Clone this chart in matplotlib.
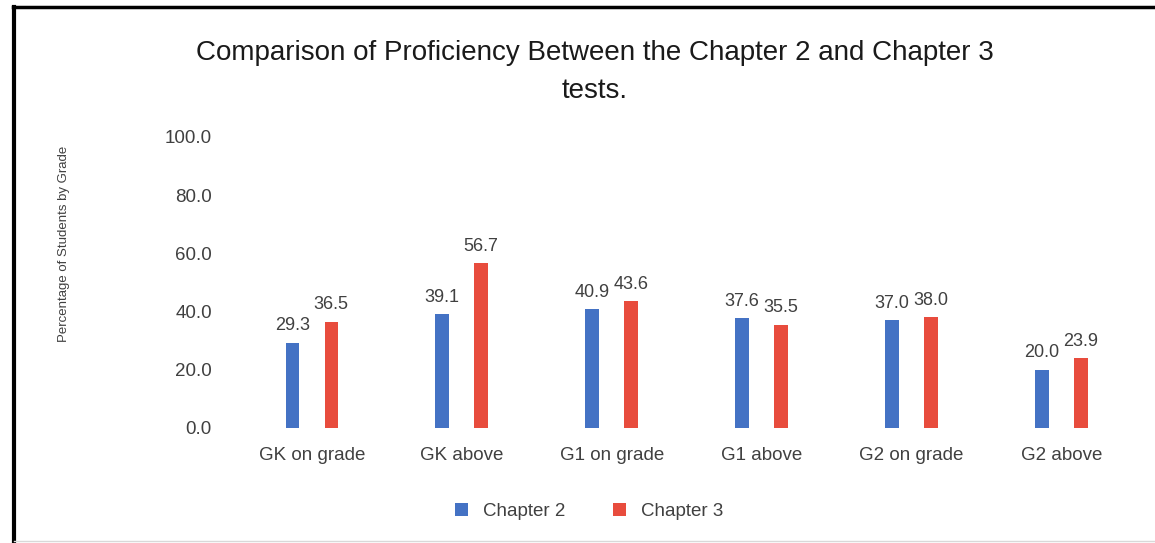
import matplotlib.pyplot as plt
import numpy as np
from matplotlib.lines import Line2D

plt.rcParams['font.family'] = ['Liberation Sans', 'DejaVu Sans']

categories = ['GK on grade', 'GK above', 'G1 on grade', 'G1 above', 'G2 on grade', 'G2 above']
chapter2 = [29.3, 39.1, 40.9, 37.6, 37.0, 20.0]
chapter3 = [36.5, 56.7, 43.6, 35.5, 38.0, 23.9]
yticks = [0, 20, 40, 60, 80, 100]

blue = '#4472C4'
red = '#E84C3D'
txt = '#404040'

fig = plt.figure(figsize=(11.55, 5.43), dpi=100)
ax = fig.add_axes([0.205, 0.212, 0.779, 0.536])

x = np.arange(len(categories))
w = 0.09
b2 = ax.bar(x - 0.13, chapter2, w, color=blue, label='Chapter 2')
b3 = ax.bar(x + 0.13, chapter3, w, color=red, label='Chapter 3')
for bars in (b2, b3):
    ax.bar_label(bars, fmt='%.1f', padding=6, fontsize=13, color=txt)

ax.set_xlim(-0.5, len(categories) - 0.5)
ax.set_ylim(0, 100)
ax.set_yticks(yticks)
ax.set_yticklabels([f'{v:.1f}' for v in yticks])
ax.set_xticks(x)
ax.set_xticklabels(categories)
ax.tick_params(length=0, labelsize=13.5, labelcolor=txt)
ax.tick_params(axis='y', pad=18)
ax.tick_params(axis='x', pad=14)
for s in ax.spines.values():
    s.set_visible(False)

fig.text(0.515, 0.868, 'Comparison of Proficiency Between the Chapter 2 and Chapter 3\ntests.',
         ha='center', va='center', fontsize=20, color='#1a1a1a', linespacing=1.6)
fig.text(0.055, 0.55, 'Percentage of Students by Grade', rotation=90,
         ha='center', va='center', fontsize=9.5, color=txt)

ax.legend(loc='center', bbox_to_anchor=(0.51, 0.058), bbox_transform=fig.transFigure,
          ncol=2, frameon=False, fontsize=13.5, labelcolor=txt,
          handlelength=0.7, handleheight=0.7, columnspacing=2.5)

# frame around the chart
fig.add_artist(Line2D([0.012, 0.012], [0, 0.988], color='black', lw=3, transform=fig.transFigure))
fig.add_artist(Line2D([0.011, 1.0], [0.987, 0.987], color='black', lw=2.5, transform=fig.transFigure))
fig.add_artist(Line2D([0.012, 1.0], [0.004, 0.004], color='#d9d9d9', lw=1, transform=fig.transFigure))

fig.savefig('out.png', dpi=100)
